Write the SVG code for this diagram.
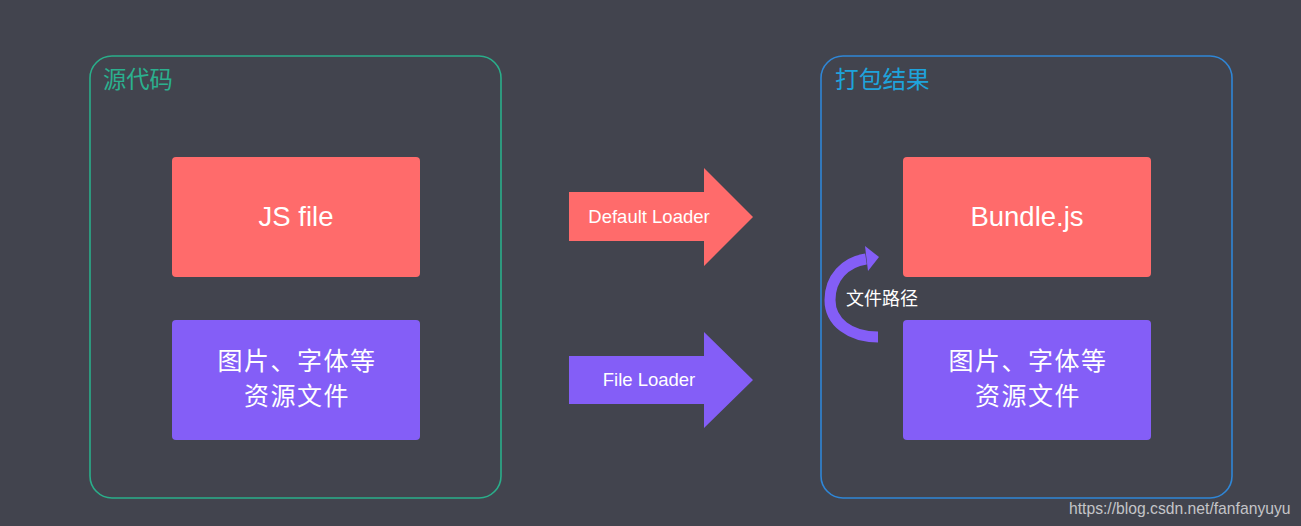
<svg xmlns="http://www.w3.org/2000/svg" width="1301" height="526" viewBox="0 0 1301 526">
<style>
.bg{fill:#42444e}
.red{fill:#ff6b6b}
.pur{fill:#845ef7}
.lat{font-family:"Liberation Sans","Noto Sans",sans-serif;fill:#ffffff}
.cjk{font-family:"Noto Sans CJK SC",sans-serif;fill:#ffffff}
.big{font-size:25px;letter-spacing:1.5px}
.frame{fill:none;stroke-width:1.6}
</style>
<rect class="bg" x="0" y="0" width="1301" height="526"/>
<g id="source-container">
<rect class="frame" x="90" y="56" width="411" height="442" rx="22" stroke="#2aae8a"/>
<text class="cjk" x="103" y="88" font-size="23.3" style="fill:#2bb08e">源代码</text>
</g>
<g id="result-container">
<rect class="frame" x="821" y="56" width="411" height="442" rx="22" stroke="#2f86d6"/>
<text class="cjk" x="835" y="88" font-size="23.7" style="fill:#1ea3dc">打包结果</text>
</g>
<g id="js-file">
<rect class="red" x="172" y="157" width="248" height="120" rx="4"/>
<text class="lat" x="296" y="226" font-size="27.5" text-anchor="middle">JS file</text>
</g>
<g id="assets-src">
<rect class="pur" x="172" y="320" width="248" height="120" rx="4"/>
<text class="cjk big" x="297" y="370" text-anchor="middle">图片、字体等</text>
<text class="cjk big" x="297" y="405" text-anchor="middle">资源文件</text>
</g>
<g id="bundle-js">
<rect class="red" x="903" y="157" width="248" height="120" rx="4"/>
<text class="lat" x="1027" y="226" font-size="27.5" text-anchor="middle">Bundle.js</text>
</g>
<g id="assets-out">
<rect class="pur" x="903" y="320" width="248" height="120" rx="4"/>
<text class="cjk big" x="1028" y="370" text-anchor="middle">图片、字体等</text>
<text class="cjk big" x="1028" y="405" text-anchor="middle">资源文件</text>
</g>
<g id="connectors">
<g id="default-loader">
<polygon class="red" points="569,192 704,192 704,168 753,217 704,266 704,241 569,241"/>
<text class="lat" x="649" y="223" font-size="18.5" text-anchor="middle">Default Loader</text>
</g>
<g id="file-loader">
<polygon class="pur" points="569,356 704,356 704,332 753,380 704,428 704,404 569,404"/>
<text class="lat" x="649" y="386" font-size="18.5" text-anchor="middle">File Loader</text>
</g>
<g id="file-path">
<path d="M 878 337 C 850 337 830 322 830 300 C 830 278 845 262 866 259" fill="none" stroke="#845ef7" stroke-width="11"/>
<polygon class="pur" points="865,246 879,257 868,271"/>
<text class="cjk" x="846" y="305" font-size="18">文件路径</text>
</g>
</g>
<text x="1069" y="514" font-family="Liberation Sans, Arial, sans-serif" font-size="15.7" fill="#c4c4c8">https://blog.csdn.net/fanfanyuyu</text>
</svg>
